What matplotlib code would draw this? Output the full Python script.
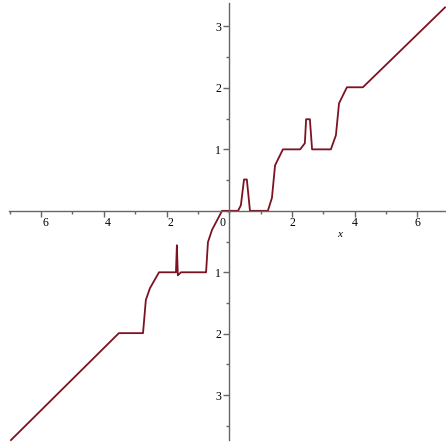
import numpy as np
import matplotlib.pyplot as plt
import matplotlib.transforms as mtransforms

# puntos de la curva
xs = [-6.96, -3.52, -2.75, -2.66, -2.53, -2.24, -1.70, -1.67, -1.64, -1.54,
      -0.74, -0.68, -0.55, -0.23, 0.28, 0.37, 0.47, 0.56, 0.66, 1.23,
      1.36, 1.46, 1.71, 2.26, 2.41, 2.45, 2.57, 2.64, 3.24, 3.40,
      3.50, 3.75, 4.26, 6.88]
ys = [-3.73, -1.99, -1.99, -1.45, -1.26, -1.00, -1.00, -0.56, -1.05, -1.00,
      -1.00, -0.51, -0.31, 0.00, 0.00, 0.09, 0.51, 0.51, 0.00, 0.00,
      0.21, 0.74, 1.00, 1.00, 1.10, 1.49, 1.49, 1.00, 1.00, 1.23,
      1.75, 2.01, 2.01, 3.31]

# marcas de los ejes
xticks = [-6, -4, -2, 2, 4, 6]
xlabels = ["6", "4", "2", "2", "4", "6"]
yticks = [-3, -2, -1, 1, 2, 3]
ylabels = ["3", "2", "1", "1", "2", "3"]

fig = plt.figure(figsize=(4.46, 4.45), dpi=100)
ax = fig.add_axes([0, 0, 1, 1])
ax.patch.set_visible(False)

ax.plot(xs, ys, color='#7c1222', lw=1.3)

ax.set_xlim(-7.31, 6.91)
ax.set_ylim(-3.81, 3.43)

for s in ['top', 'right']:
    ax.spines[s].set_visible(False)
ax.spines['bottom'].set_position(('data', 0))
ax.spines['left'].set_position(('data', 0))
ax.spines['bottom'].set_bounds(-7.03, 6.91)
ax.spines['left'].set_bounds(-3.73, 3.38)
for s in ['bottom', 'left']:
    ax.spines[s].set_color('#666666')
    ax.spines[s].set_linewidth(1.0)

fuente = 'Liberation Serif'

ax.set_xticks(xticks)
ax.set_xticklabels(xlabels, fontsize=8.5, family=fuente)
ax.set_xticks(np.arange(-7, 7), minor=True)
ax.set_yticks(yticks)
ax.set_yticklabels(ylabels, fontsize=8.5, family=fuente)
ax.set_yticks(np.arange(-3.5, 3.5, 0.5), minor=True)

ax.tick_params(axis='x', which='major', length=4, width=1, color='#666666', pad=0.5)
ax.tick_params(axis='x', which='minor', length=2.5, width=1, color='#666666')
ax.tick_params(axis='y', which='major', length=4, width=1, color='#666666', pad=2)
ax.tick_params(axis='y', which='minor', length=2.5, width=1, color='#666666')

# las etiquetas de la izquierda van un poco corridas (sin signo menos)
desp = mtransforms.ScaledTranslation(4 / 100, 0, fig.dpi_scale_trans)
for t, lab in zip(xticks, ax.get_xticklabels()):
    if t < 0:
        lab.set_transform(lab.get_transform() + desp)

ax.annotate("0", xy=(0, 0), xytext=(-7, -12), textcoords='offset pixels',
            ha='center', va='center', fontsize=8.5, family=fuente)
ax.text(3.51, -0.385, "x", ha='center', va='center', fontsize=8,
        style='italic', family=fuente)

plt.savefig('out.png', dpi=100)
